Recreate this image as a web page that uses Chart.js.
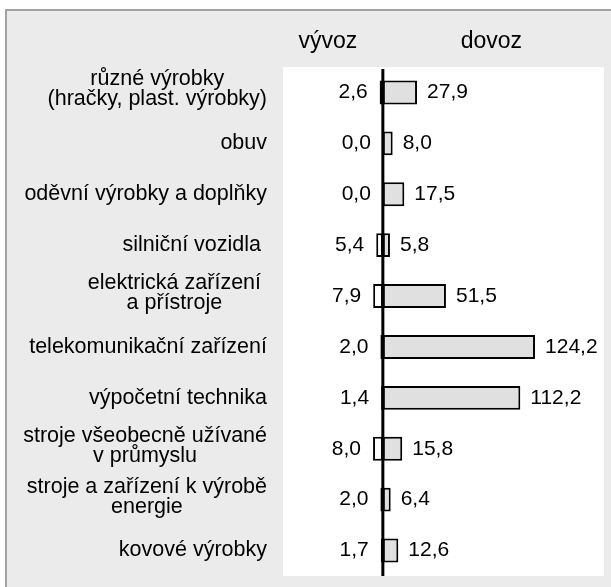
<!DOCTYPE html>
<html>
<head>
<meta charset="utf-8">
<script src="https://cdn.jsdelivr.net/npm/chart.js"></script>
<style>
  body { margin: 0; background: #fff; }
</style>
</head>
<body>
<canvas id="myChart" width="611" height="587"></canvas>
<script>
// categories (multi-line ones as arrays)
const categories = [
  ['různé výrobky', '(hračky, plast. výrobky)'],
  'obuv',
  'oděvní výrobky a doplňky',
  'silniční vozidla ',
  ['elektrická zařízení ', 'a přístroje '],
  'telekomunikační zařízení',
  'výpočetní technika',
  ['stroje všeobecně užívané', 'v průmyslu'],
  ['stroje a zařízení k výrobě', 'energie'],
  'kovové výrobky'
];
const seriesNames = ['vývoz', 'dovoz'];
const exportValues = [2.6, 0.0, 0.0, 5.4, 7.9, 2.0, 1.4, 8.0, 2.0, 1.7];
const importValues = [27.9, 8.0, 17.5, 5.8, 51.5, 124.2, 112.2, 15.8, 6.4, 12.6];

const FAMILY = '"Liberation Sans", Arial, sans-serif';
const fmt = v => Math.abs(v).toFixed(1).replace('.', ',');

const decor = {
  id: 'decor',
  beforeDraw(chart) {
    const ctx = chart.ctx, W = chart.width, H = chart.height, a = chart.chartArea;
    ctx.save();
    ctx.fillStyle = '#ffffff';
    ctx.fillRect(0, 0, W, H);
    ctx.fillStyle = '#a3a3a3';
    ctx.fillRect(5, 9, W - 5, 2);
    ctx.fillRect(5, 9, 2, H - 9);
    ctx.fillStyle = '#ebebeb';
    ctx.fillRect(7, 11, W - 7, H - 11);
    ctx.fillStyle = '#ffffff';
    ctx.fillRect(a.left, a.top, a.right - a.left, a.bottom - a.top);
    ctx.restore();
  },
  afterDatasetsDraw(chart) {
    const ctx = chart.ctx, a = chart.chartArea;
    const xs = chart.scales.x, ys = chart.scales.y;
    const zero = xs.getPixelForValue(0);
    ctx.save();
    // axis line
    ctx.strokeStyle = '#000';
    ctx.lineWidth = 3;
    ctx.beginPath();
    ctx.moveTo(zero, a.top + 2);
    ctx.lineTo(zero, a.bottom);
    ctx.stroke();

    ctx.font = '21px ' + FAMILY;
    ctx.fillStyle = '#000';
    ctx.textBaseline = 'middle';
    // value labels
    const m0 = chart.getDatasetMeta(0), m1 = chart.getDatasetMeta(1);
    m0.data.forEach((bar, i) => {
      ctx.textAlign = 'right';
      ctx.fillText(fmt(exportValues[i]), bar.x - 12, bar.y);
    });
    m1.data.forEach((bar, i) => {
      ctx.textAlign = 'left';
      ctx.fillText(fmt(importValues[i]), bar.x + 10, bar.y);
    });

    // series headers
    ctx.font = '23px ' + FAMILY;
    ctx.textAlign = 'center';
    ctx.textBaseline = 'alphabetic';
    ctx.fillText(chart.data.datasets[0].label, (a.left + zero) / 2 - 5, 48);
    ctx.fillText(chart.data.datasets[1].label, (zero + a.right) / 2 - 2, 48);

    // category labels: block right-aligned, lines centred
    ctx.font = '21.5px ' + FAMILY;
    ctx.textBaseline = 'middle';
    const rightEdge = a.left - 16;
    categories.forEach((lab, i) => {
      const lines = Array.isArray(lab) ? lab : [lab];
      const w = Math.max(...lines.map(l => ctx.measureText(l).width));
      const cx = rightEdge - w / 2;
      const yc = ys.getPixelForValue(i) + (lines.length > 1 ? -3 : 0);
      const lh = 20;
      lines.forEach((l, k) => {
        ctx.fillText(l, cx, yc + (k - (lines.length - 1) / 2) * lh);
      });
    });
    ctx.restore();
  }
};

const ctx = document.getElementById('myChart');
new Chart(ctx, {
  type: 'bar',
  data: {
    labels: categories,
    datasets: [{
      label: seriesNames[0],
      data: exportValues.map(v => -v),
      backgroundColor: '#ffffff',
      borderColor: '#000000',
      borderWidth: 2,
      borderSkipped: false,
      barPercentage: 0.47,
      categoryPercentage: 1
    }, {
      label: seriesNames[1],
      data: importValues,
      backgroundColor: '#e0e0e0',
      borderColor: '#000000',
      borderWidth: 2,
      borderSkipped: false,
      barPercentage: 0.47,
      categoryPercentage: 1
    }]
  },
  options: {
    indexAxis: 'y',
    responsive: false,
    animation: false,
    layout: { padding: { left: 283, top: 67, right: 7, bottom: 11 } },
    scales: {
      x: { display: false, stacked: true, min: -81.5, max: 180.5 },
      y: { display: false, stacked: true }
    },
    plugins: {
      legend: { display: false },
      tooltip: { enabled: false }
    }
  },
  plugins: [decor]
});
</script>
</body>
</html>
